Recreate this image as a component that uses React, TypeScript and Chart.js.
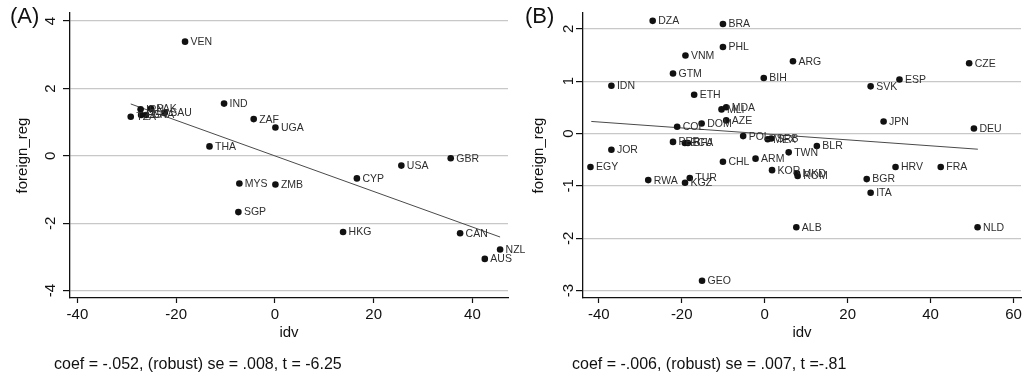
import React, { useEffect, useRef } from 'react';
import { Chart, registerables } from 'chart.js';

Chart.register(...registerables);

const FONT = '"Liberation Sans", Arial, Helvetica, sans-serif';

// ---------- Panel A data ----------
const A_CODES = ['VEN', 'IND', 'THA', 'MYS', 'TZA', 'IRN', 'EGY', 'GHA', 'PAK', 'SAU', 'ZAF', 'UGA', 'USA', 'GBR', 'CYP', 'ZMB', 'SGP', 'HKG', 'CAN', 'NZL', 'AUS'];
const A_IDV = [-18.2, -10.3, -13.25, -7.2, -29.2, -27.2, -27.1, -26.1, -25.1, -22.3, -4.3, 0.1, 25.6, 35.6, 16.6, 0.1, -7.4, 13.8, 37.5, 45.6, 42.5];
const A_REG = [3.39, 1.55, 0.28, -0.82, 1.16, 1.38, 1.21, 1.21, 1.40, 1.28, 1.09, 0.84, -0.29, -0.07, -0.67, -0.85, -1.67, -2.26, -2.30, -2.78, -3.06];
const A_FIT_X = [-29.2, 45.6];
const A_FIT_Y = [1.54, -2.41];
const A_X_TICKS = [-40, -20, 0, 20, 40];
const A_Y_TICKS = [-4, -2, 0, 2, 4];
const A_X_RANGE = [-41.5, 47.2];
const A_Y_RANGE = [-4.22, 4.24];
const A_CAPTION = 'coef = -.052, (robust) se = .008, t = -6.25';

// ---------- Panel B data ----------
const B_CODES = ['DZA', 'BRA', 'PHL', 'VNM', 'GTM', 'IDN', 'ETH', 'MLI', 'MDA', 'AZE', 'DOM', 'COL', 'POL', 'PER', 'ECU', 'BFA', 'JOR', 'EGY', 'CHL', 'ARM', 'RWA', 'TUR', 'KGZ', 'ARG', 'BIH', 'CZE', 'ESP', 'SVK', 'JPN', 'DEU', 'MEX', 'SRB', 'TWN', 'BLR', 'KOR', 'MKD', 'ROM', 'HRV', 'FRA', 'BGR', 'ITA', 'ALB', 'NLD', 'GEO'];
const B_IDV = [-27.0, -10.06, -10.06, -19.1, -22.1, -36.95, -17.0, -10.4, -9.27, -9.27, -15.2, -21.1, -5.19, -22.1, -19.25, -18.5, -36.95, -42.0, -10.06, -2.2, -28.07, -18.06, -19.2, 6.82, -0.22, 49.3, 32.5, 25.55, 28.67, 50.45, 0.73, 1.6, 5.79, 12.58, 1.78, 7.78, 7.95, 31.55, 42.45, 24.6, 25.55, 7.63, 51.33, -15.1];
const B_REG = [2.15, 2.09, 1.65, 1.49, 1.145, 0.91, 0.74, 0.46, 0.50, 0.25, 0.19, 0.13, -0.05, -0.16, -0.18, -0.18, -0.31, -0.64, -0.54, -0.48, -0.89, -0.85, -0.94, 1.38, 1.06, 1.34, 1.03, 0.90, 0.23, 0.095, -0.11, -0.095, -0.36, -0.24, -0.70, -0.76, -0.81, -0.64, -0.64, -0.87, -1.13, -1.79, -1.79, -2.81];
const B_FIT_X = [-41.8, 51.4];
const B_FIT_Y = [0.23, -0.30];
const B_X_TICKS = [-40, -20, 0, 20, 40, 60];
const B_Y_TICKS = [-3, -2, -1, 0, 1, 2];
const B_X_RANGE = [-43.8, 61.8];
const B_Y_RANGE = [-3.14, 2.3];
const B_CAPTION = 'coef = -.006, (robust) se = .007, t =-.81';

const stataPlugin = {
  id: 'stata',
  afterDatasetsDraw(chart: any, _args: any, opts: any) {
    const ctx = chart.ctx;
    const meta = chart.getDatasetMeta(0);
    ctx.save();
    ctx.font = `10.5px ${FONT}`;
    ctx.fillStyle = '#2e2e2e';
    ctx.textAlign = 'left';
    ctx.textBaseline = 'middle';
    meta.data.forEach((el: any, i: number) => {
      ctx.fillText(opts.codes[i], el.x + 5.5, el.y + 0.5);
    });
    ctx.restore();
  },
  afterDraw(chart: any, _args: any, opts: any) {
    const { ctx, chartArea, scales } = chart;
    const y = scales.y;
    ctx.save();
    ctx.fillStyle = '#111111';
    ctx.font = `15px ${FONT}`;
    ctx.textAlign = 'center';
    ctx.textBaseline = 'middle';
    y.ticks.forEach((t: any) => {
      const py = y.getPixelForValue(t.value);
      ctx.save();
      ctx.translate(chartArea.left - opts.tickOffset, py);
      ctx.rotate(-Math.PI / 2);
      ctx.fillText(String(t.value), 0, 0);
      ctx.restore();
    });
    ctx.save();
    ctx.translate(chartArea.left - opts.titleOffset, (chartArea.top + chartArea.bottom) / 2);
    ctx.rotate(-Math.PI / 2);
    ctx.fillText('foreign_reg', 0, 0);
    ctx.restore();
    ctx.restore();
  },
};

type PanelProps = {
  codes: string[]; xs: number[]; ys: number[]; fitX: number[]; fitY: number[];
  xTicks: number[]; yTicks: number[]; xRange: number[]; yRange: number[];
  width: number; yWidth: number; padRight: number; tickOffset: number; titleOffset: number;
};

function Panel(p: PanelProps) {
  const ref = useRef<HTMLCanvasElement>(null);
  useEffect(() => {
    if (!ref.current) return;
    const chart = new Chart(ref.current, {
      type: 'scatter',
      data: {
        datasets: [
          {
            data: p.xs.map((x, i) => ({ x, y: p.ys[i] })),
            backgroundColor: '#111111',
            borderWidth: 0,
            pointRadius: 3.3,
            order: 1,
          },
          {
            data: p.fitX.map((x, i) => ({ x, y: p.fitY[i] })),
            showLine: true,
            borderColor: '#4a4a4a',
            borderWidth: 1,
            pointRadius: 0,
            order: 2,
          },
        ],
      },
      options: {
        animation: false,
        responsive: false,
        events: [],
        layout: { padding: { left: 0, right: p.padRight, top: 13, bottom: 30 } },
        plugins: {
          legend: { display: false },
          tooltip: { enabled: false },
          stata: { codes: p.codes, tickOffset: p.tickOffset, titleOffset: p.titleOffset },
        } as any,
        scales: {
          x: {
            type: 'linear',
            min: p.xRange[0],
            max: p.xRange[1],
            afterBuildTicks: (s: any) => { s.ticks = p.xTicks.map((v) => ({ value: v })); },
            afterFit: (s: any) => { s.height = 46; s.paddingLeft = 0; s.paddingRight = 0; },
            grid: { drawOnChartArea: false, drawTicks: true, tickLength: 5, tickColor: '#111', tickWidth: 1.2 },
            border: { display: true, color: '#111', width: 1.3 },
            ticks: { font: { family: FONT, size: 15 }, color: '#111', padding: 3, maxRotation: 0, autoSkip: false },
            title: { display: true, text: 'idv', font: { family: FONT, size: 15 }, color: '#111', padding: { top: 0, bottom: 2 } },
          },
          y: {
            type: 'linear',
            min: p.yRange[0],
            max: p.yRange[1],
            afterBuildTicks: (s: any) => { s.ticks = p.yTicks.map((v) => ({ value: v })); },
            afterFit: (s: any) => { s.width = p.yWidth; s.paddingTop = 0; s.paddingBottom = 0; },
            grid: { color: '#c8c8c8', lineWidth: 1.2, drawTicks: true, tickLength: 7, tickColor: '#111', tickWidth: 1.2 },
            border: { display: true, color: '#111', width: 1.3 },
            ticks: { display: false },
          },
        },
      } as any,
      plugins: [stataPlugin as any],
    });
    return () => chart.destroy();
  }, []);
  return <canvas ref={ref} width={p.width} height={374} style={{ display: 'block' }} />;
}

const textStyle: React.CSSProperties = { position: 'absolute', fontFamily: FONT, color: '#111', whiteSpace: 'nowrap' };

export default function App() {
  return (
    <div style={{ position: 'fixed', left: 0, top: 0, width: 1027, height: 374, background: '#fff', overflow: 'hidden' }}>
      <div style={{ position: 'absolute', left: 0, top: 0 }}>
        <Panel codes={A_CODES} xs={A_IDV} ys={A_REG} fitX={A_FIT_X} fitY={A_FIT_Y}
          xTicks={A_X_TICKS} yTicks={A_Y_TICKS} xRange={A_X_RANGE} yRange={A_Y_RANGE}
          width={540} yWidth={70} padRight={32} tickOffset={19} titleOffset={47} />
      </div>
      <div style={{ position: 'absolute', left: 512, top: 0 }}>
        <Panel codes={B_CODES} xs={B_IDV} ys={B_REG} fitX={B_FIT_X} fitY={B_FIT_Y}
          xTicks={B_X_TICKS} yTicks={B_Y_TICKS} xRange={B_X_RANGE} yRange={B_Y_RANGE}
          width={515} yWidth={71} padRight={6} tickOffset={14} titleOffset={44} />
      </div>
      <div style={{ ...textStyle, left: 10, top: 5, fontSize: 22, lineHeight: '22px' }}>(A)</div>
      <div style={{ ...textStyle, left: 525, top: 5, fontSize: 22, lineHeight: '22px' }}>(B)</div>
      <div style={{ ...textStyle, left: 54, top: 355, fontSize: 16, lineHeight: '18px' }}>{A_CAPTION}</div>
      <div style={{ ...textStyle, left: 572, top: 355, fontSize: 16, lineHeight: '18px' }}>{B_CAPTION}</div>
    </div>
  );
}
